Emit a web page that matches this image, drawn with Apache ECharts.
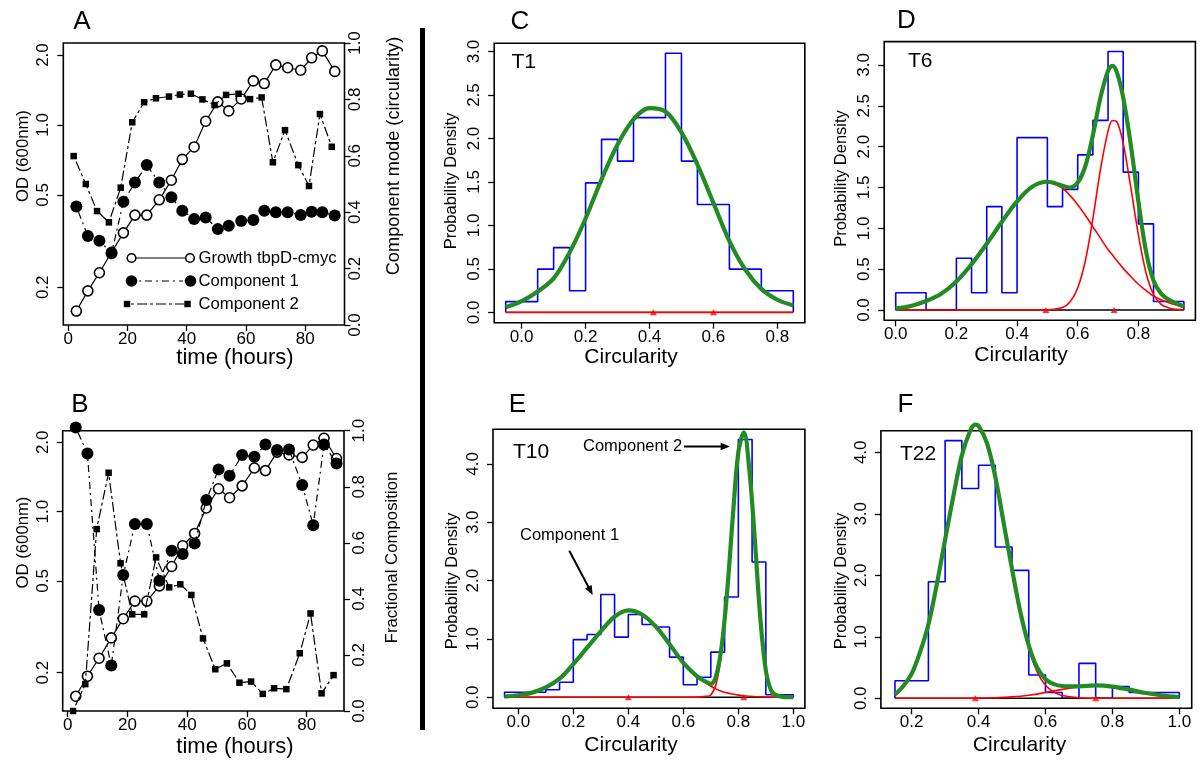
<!DOCTYPE html>
<html><head><meta charset="utf-8">
<script src="https://cdn.jsdelivr.net/npm/echarts@6/dist/echarts.min.js"></script>
<style>html,body{margin:0;padding:0;background:#fff}#c{width:1200px;height:770px}</style>
</head><body><div id="c"></div>
<script>
// ---------------- Panel A / B data (time courses) ----------------
const timeCirc = [2.7, 6.6, 10.5, 14.6, 18.6, 22.5, 26.5, 30.7, 34.8, 38.5, 42.5, 46.4, 50.5, 54.2, 58.4, 62.5, 66.2, 70.1, 74.1, 78.5, 82.2, 85.8, 90.0];
const timeSq = [1.8, 5.9, 9.7, 13.7, 17.7, 21.6, 25.6, 29.6, 34.0, 37.7, 41.4, 45.3, 49.4, 53.3, 57.5, 61.4, 65.3, 69.1, 73.2, 77.7, 81.3, 85.0, 89.0];
const growthOD = [0.158, 0.193, 0.231, 0.283, 0.343, 0.409, 0.409, 0.476, 0.578, 0.711, 0.804, 1.037, 1.257, 1.149, 1.294, 1.547, 1.507, 1.813, 1.763, 1.72, 1.946, 2.083, 1.70];
const comp1Mode = [0.420, 0.316, 0.299, 0.254, 0.437, 0.505, 0.567, 0.505, 0.453, 0.405, 0.376, 0.381, 0.340, 0.352, 0.369, 0.372, 0.405, 0.400, 0.400, 0.390, 0.402, 0.400, 0.388];
const comp2Mode = [0.599, 0.500, 0.404, 0.364, 0.487, 0.719, 0.790, 0.804, 0.810, 0.817, 0.820, 0.800, 0.780, 0.816, 0.820, 0.801, 0.807, 0.577, 0.691, 0.567, 0.493, 0.748, 0.632];
const comp1Frac = [1.011, 0.919, 0.360, 0.162, 0.485, 0.667, 0.667, 0.465, 0.572, 0.560, 0.598, 0.753, 0.862, 0.839, 0.913, 0.907, 0.951, 0.931, 0.933, 0.806, 0.663, 0.951, 0.883];
const comp2Frac = [0.0, 0.096, 0.649, 0.850, 0.527, 0.345, 0.345, 0.548, 0.441, 0.452, 0.414, 0.259, 0.149, 0.170, 0.101, 0.105, 0.061, 0.081, 0.078, 0.206, 0.348, 0.063, 0.128];
const timeTicks = [0, 20, 40, 60, 80];
const odTicks = [0.2, 0.5, 1, 2];
const fracTicks = [0, 0.2, 0.4, 0.6, 0.8, 1.0];

// ---------------- Panel C (T1) ----------------
const histEdgesC = [-0.05, 0, 0.05, 0.1, 0.15, 0.2, 0.25, 0.3, 0.35, 0.4, 0.45, 0.5, 0.55, 0.6, 0.65, 0.7, 0.75, 0.8, 0.85];
const histC = [0.124, 0.124, 0.497, 0.745, 0.248, 1.49, 1.99, 1.74, 2.24, 2.24, 2.98, 1.74, 1.24, 1.24, 0.497, 0.497, 0.248, 0.248];
const curveXC = [-0.05, 0, 0.05, 0.1, 0.15, 0.2, 0.25, 0.3, 0.35, 0.4, 0.45, 0.5, 0.55, 0.6, 0.65, 0.7, 0.75, 0.8, 0.85];
const fitC = [0.06, 0.13, 0.24, 0.39, 0.69, 1.08, 1.53, 1.93, 2.22, 2.35, 2.31, 2.07, 1.70, 1.26, 0.82, 0.49, 0.27, 0.145, 0.08];
const compC = [0, 0, 0, 0, 0, 0, 0, 0, 0, 0, 0, 0, 0, 0, 0, 0, 0, 0, 0];
const meansC = [0.412, 0.6];

// ---------------- Panel D (T6) ----------------
const histEdgesD = [0, 0.05, 0.1, 0.15, 0.2, 0.25, 0.3, 0.35, 0.4, 0.45, 0.5, 0.55, 0.6, 0.65, 0.7, 0.75, 0.8, 0.85, 0.9, 0.95];
const histD = [0.211, 0.211, 0, 0, 0.633, 0.211, 1.266, 0.211, 2.11, 2.11, 1.266, 1.477, 1.899, 2.321, 3.165, 1.688, 1.055, 0.105, 0.105];
const curveXD = [0, 0.05, 0.1, 0.15, 0.2, 0.25, 0.3, 0.35, 0.4, 0.45, 0.5, 0.55, 0.575, 0.6, 0.625, 0.65, 0.675, 0.7, 0.715, 0.73, 0.75, 0.775, 0.8, 0.825, 0.85, 0.875, 0.9, 0.925, 0.95];
const fitD = [0.02, 0.05, 0.11, 0.2, 0.35, 0.56, 0.81, 1.08, 1.33, 1.51, 1.57, 1.52, 1.50, 1.56, 1.76, 2.14, 2.6, 2.93, 2.99, 2.9, 2.6, 2.02, 1.33, 0.72, 0.36, 0.2, 0.125, 0.08, 0.045];
const comp1D = [0.02, 0.05, 0.11, 0.2, 0.35, 0.56, 0.81, 1.08, 1.33, 1.51, 1.57, 1.49, 1.40, 1.29, 1.16, 1.02, 0.88, 0.74, 0.67, 0.6, 0.51, 0.41, 0.315, 0.24, 0.17, 0.125, 0.09, 0.06, 0.035];
const comp2D = [0, 0, 0, 0, 0, 0, 0, 0, 0, 0, 0.002, 0.03, 0.1, 0.27, 0.6, 1.12, 1.72, 2.19, 2.32, 2.3, 2.04, 1.5, 0.92, 0.46, 0.19, 0.07, 0.025, 0.008, 0.002];
const meansD = [0.495, 0.72];

// ---------------- Panel E (T10) ----------------
const histEdgesE = [-0.05, 0, 0.05, 0.1, 0.15, 0.2, 0.25, 0.3, 0.35, 0.4, 0.45, 0.5, 0.55, 0.6, 0.65, 0.7, 0.75, 0.8, 0.85, 0.9, 0.95, 1.0];
const histE = [0.086, 0.086, 0.086, 0.129, 0.258, 0.989, 1.075, 1.763, 1.032, 1.419, 1.247, 1.204, 0.688, 0.215, 0.344, 0.774, 1.72, 4.42, 2.32, 0.043, 0.043];
const curveXE = [-0.05, 0, 0.05, 0.1, 0.15, 0.2, 0.25, 0.3, 0.35, 0.4, 0.45, 0.5, 0.55, 0.6, 0.65, 0.68, 0.7, 0.72, 0.74, 0.76, 0.78, 0.8, 0.82, 0.84, 0.86, 0.88, 0.9, 0.92, 0.94, 0.97, 1.0];
const fitE = [0.011, 0.034, 0.08, 0.17, 0.32, 0.57, 0.85, 1.13, 1.38, 1.49, 1.42, 1.21, 0.91, 0.59, 0.36, 0.27, 0.23, 0.38, 0.9, 1.85, 3.1, 4.2, 4.54, 3.9, 2.7, 1.35, 0.46, 0.11, 0.03, 0.004, 0.001];
const comp1E = [0.011, 0.034, 0.08, 0.17, 0.32, 0.57, 0.85, 1.13, 1.38, 1.49, 1.42, 1.21, 0.91, 0.59, 0.36, 0.25, 0.19, 0.14, 0.1, 0.075, 0.055, 0.037, 0.025, 0.017, 0.012, 0.008, 0.005, 0.003, 0.002, 0.001, 0];
const comp2E = [0, 0, 0, 0, 0, 0, 0, 0, 0, 0, 0, 0, 0, 0, 0.002, 0.015, 0.04, 0.24, 0.8, 1.78, 3.05, 4.16, 4.52, 3.88, 2.69, 1.34, 0.455, 0.107, 0.028, 0.003, 0];
const meansE = [0.4, 0.82];

// ---------------- Panel F (T22) ----------------
const histEdgesF = [0.15, 0.2, 0.25, 0.3, 0.35, 0.4, 0.45, 0.5, 0.55, 0.6, 0.65, 0.7, 0.75, 0.8, 0.85, 0.9, 0.95, 1.0];
const histF = [0.284, 0.284, 1.894, 4.19, 3.41, 3.79, 2.46, 2.08, 0.379, 0.095, 0, 0.568, 0, 0.189, 0.095, 0.095, 0.095];
const curveXF = [0.15, 0.175, 0.2, 0.225, 0.25, 0.275, 0.3, 0.325, 0.35, 0.375, 0.39, 0.4, 0.425, 0.45, 0.475, 0.5, 0.525, 0.55, 0.575, 0.6, 0.625, 0.65, 0.7, 0.75, 0.8, 0.85, 0.9, 0.95, 1.0];
const fitF = [0.06, 0.2, 0.4, 0.75, 1.2, 1.85, 2.58, 3.3, 3.95, 4.35, 4.45, 4.43, 4.15, 3.6, 2.85, 2.1, 1.4, 0.86, 0.5, 0.31, 0.23, 0.2, 0.195, 0.21, 0.19, 0.14, 0.085, 0.045, 0.02];
const comp1F = [0.06, 0.2, 0.4, 0.75, 1.2, 1.85, 2.58, 3.3, 3.95, 4.35, 4.45, 4.43, 4.15, 3.6, 2.84, 2.08, 1.37, 0.81, 0.43, 0.21, 0.1, 0.045, 0.008, 0.001, 0, 0, 0, 0, 0];
const comp2F = [0, 0, 0, 0, 0, 0, 0, 0, 0, 0.001, 0.002, 0.003, 0.005, 0.008, 0.014, 0.022, 0.033, 0.048, 0.068, 0.095, 0.12, 0.145, 0.185, 0.205, 0.19, 0.14, 0.085, 0.045, 0.02];
const meansF = [0.39, 0.75];

const circTicks08 = [0, 0.2, 0.4, 0.6, 0.8];
const circTicks10 = [0, 0.2, 0.4, 0.6, 0.8, 1.0];
const circTicksF = [0.2, 0.4, 0.6, 0.8, 1.0];
const densTicks3 = [0, 0.5, 1.0, 1.5, 2.0, 2.5, 3.0];
const densTicks4 = [0, 1, 2, 3, 4];

// ---------------- helpers ----------------
const FONT = '"Liberation Sans", Arial, Helvetica, sans-serif';
const fmt1 = v => Number(v).toFixed(1);
const fmt0 = v => String(Math.round(v));
const pairs = (xs, ys) => xs.map((x, i) => [x, ys[i]]);
function stepData(edges, h) {
  const d = [[edges[0], 0]];
  for (let i = 0; i < h.length; i++) d.push([edges[i], h[i]]);
  d.push([edges[edges.length - 1], 0]);
  return d;
}
function gridCfg(left, top, width, height) {
  return { left, top, width, height, show: true, borderColor: '#000', borderWidth: 1.6,
           backgroundColor: 'transparent', containLabel: false, outerBoundsMode: 'none' };
}
function axisCommon(ticks, fmt, margin, rotate) {
  return {
    axisLine: { show: false, onZero: false },
    splitLine: { show: false },
    axisTick: { show: true, inside: false, length: 6, lineStyle: { color: '#000', width: 1.3 }, customValues: ticks },
    axisLabel: { show: true, customValues: ticks, formatter: fmt, fontSize: 17, fontFamily: FONT,
                 color: '#000', margin: margin, rotate: rotate || 0 }
  };
}
function xAx(grid, min, max, ticks, fmt) {
  return Object.assign({ type: 'value', gridIndex: grid, min, max, position: 'bottom' }, axisCommon(ticks, fmt, 6, 0));
}
function yAx(grid, type, min, max, ticks, pos, margin) {
  const a = Object.assign({ type, gridIndex: grid, min, max, position: pos }, axisCommon(ticks, fmt1, margin, 90));
  if (type === 'log') a.logBase = 10;
  return a;
}
function densitySeries(xi, yi, edges, hist, cx, fit, c1, c2, means, clipFit) {
  const s = [];
  s.push({ type: 'line', xAxisIndex: xi, yAxisIndex: yi, data: stepData(edges, hist), step: 'end',
           symbol: 'none', lineStyle: { color: '#0000ff', width: 1.6 }, z: 2, silent: true });
  s.push({ type: 'line', xAxisIndex: xi, yAxisIndex: yi, data: [[edges[0], 0], [edges[edges.length - 1], 0]],
           symbol: 'none', lineStyle: { color: '#000', width: 1.4 }, z: 3, silent: true });
  [c1, c2].forEach(c => { if (c) s.push({ type: 'line', xAxisIndex: xi, yAxisIndex: yi, data: pairs(cx, c),
           smooth: 0.35, symbol: 'none', lineStyle: { color: '#ff0000', width: 1.6 }, z: 4, silent: true }); });
  s.push({ type: 'scatter', xAxisIndex: xi, yAxisIndex: yi, data: means.map(m => [m, 0]), symbol: 'triangle',
           symbolSize: [7, 6], itemStyle: { color: '#ff0000' }, z: 5, silent: true });
  s.push({ type: 'line', xAxisIndex: xi, yAxisIndex: yi, data: pairs(cx, fit), smooth: 0.35, symbol: 'none',
           clip: !clipFit, lineStyle: { color: '#228b22', width: 4.2 }, z: 6, silent: true });
  return s;
}
function txt(x, y, s, size, align, rot) {
  return { type: 'text', x, y, rotation: rot || 0, z: 100, silent: true,
           style: { text: s, fontSize: size, fontFamily: FONT, fill: '#000',
                    align: align || 'center', verticalAlign: 'middle',
                    textAlign: align || 'center', textVerticalAlign: 'middle' } };
}
function arrow(x1, y1, x2, y2) {
  const a = Math.atan2(y2 - y1, x2 - x1), L = 10, w = 0.38;
  return [
    { type: 'line', z: 100, shape: { x1, y1, x2: x2 - 6 * Math.cos(a), y2: y2 - 6 * Math.sin(a) }, style: { stroke: '#000', lineWidth: 2 } },
    { type: 'polygon', z: 100, shape: { points: [[x2, y2],
        [x2 - L * Math.cos(a - w), y2 - L * Math.sin(a - w)],
        [x2 - L * Math.cos(a + w), y2 - L * Math.sin(a + w)]] }, style: { fill: '#000' } }
  ];
}

// ---------------- option ----------------
const PI2 = Math.PI / 2;
const dashC1 = [2, 4, 7, 4];
const dashC2 = [3, 3, 10, 3];

const option = {
  animation: false,
  backgroundColor: '#fff',
  textStyle: { fontFamily: FONT },
  grid: [
    gridCfg(63.3, 43, 281.2, 282),      // A
    gridCfg(62.7, 430.7, 281.3, 280.3), // B
    gridCfg(494.2, 43.3, 310.6, 279.4), // C
    gridCfg(884.2, 41.6, 311.2, 278.7), // D
    gridCfg(493, 429.3, 311.9, 279),    // E
    gridCfg(880.9, 430.7, 310.8, 277.6) // F
  ],
  xAxis: [
    xAx(0, -1.7, 93.3, timeTicks, fmt0),
    xAx(1, -1.67, 92.5, timeTicks, fmt0),
    xAx(2, -0.086, 0.886, circTicks08, fmt1),
    xAx(3, -0.038, 0.988, circTicks08, fmt1),
    xAx(4, -0.092, 1.042, circTicks10, fmt1),
    xAx(5, 0.108, 1.037, circTicksF, fmt1)
  ],
  yAxis: [
    yAx(0, 'log', 0.1376, 2.253, odTicks, 'left', 11),
    yAx(0, 'value', 0, 1, fracTicks, 'right', 2),
    yAx(1, 'log', 0.1363, 2.246, odTicks, 'left', 11),
    yAx(1, 'value', 0, 1, fracTicks, 'right', 7),
    yAx(2, 'value', -0.119, 3.095, densTicks3, 'left', 11),
    yAx(3, 'value', -0.126, 3.286, densTicks3, 'left', 11),
    yAx(4, 'value', -0.189, 4.594, densTicks4, 'left', 11),
    yAx(5, 'value', -0.163, 4.351, densTicks4, 'left', 11)
  ],
  series: [].concat(
    // Panel A
    [
      { type: 'line', xAxisIndex: 0, yAxisIndex: 0, data: pairs(timeCirc, growthOD), symbol: 'circle', symbolSize: 10,
        lineStyle: { color: '#000', width: 1.2 }, itemStyle: { color: '#fff', borderColor: '#000', borderWidth: 1.6 }, z: 3 },
      { type: 'line', xAxisIndex: 0, yAxisIndex: 1, data: pairs(timeCirc, comp1Mode), symbol: 'circle', symbolSize: 12,
        lineStyle: { color: '#000', width: 1.2, type: dashC1 }, itemStyle: { color: '#000' }, z: 4 },
      { type: 'line', xAxisIndex: 0, yAxisIndex: 1, data: pairs(timeSq, comp2Mode), symbol: 'rect', symbolSize: 6.5,
        lineStyle: { color: '#000', width: 1.2, type: dashC2 }, itemStyle: { color: '#000' }, z: 5 }
    ],
    // Panel B
    [
      { type: 'line', xAxisIndex: 1, yAxisIndex: 2, data: pairs(timeCirc, growthOD), symbol: 'circle', symbolSize: 10,
        lineStyle: { color: '#000', width: 1.2 }, itemStyle: { color: '#fff', borderColor: '#000', borderWidth: 1.6 }, z: 3 },
      { type: 'line', xAxisIndex: 1, yAxisIndex: 3, data: pairs(timeCirc, comp1Frac), symbol: 'circle', symbolSize: 12, clip: false,
        lineStyle: { color: '#000', width: 1.2, type: dashC1 }, itemStyle: { color: '#000' }, z: 4 },
      { type: 'line', xAxisIndex: 1, yAxisIndex: 3, data: pairs(timeSq, comp2Frac), symbol: 'rect', symbolSize: 6.5, clip: false,
        lineStyle: { color: '#000', width: 1.2, type: dashC2 }, itemStyle: { color: '#000' }, z: 5 }
    ],
    densitySeries(2, 4, histEdgesC, histC, curveXC, fitC, compC, null, meansC, false),
    densitySeries(3, 5, histEdgesD, histD, curveXD, fitD, comp1D, comp2D, meansD, false),
    densitySeries(4, 6, histEdgesE, histE, curveXE, fitE, comp1E, comp2E, meansE, false),
    densitySeries(5, 7, histEdgesF, histF, curveXF, fitF, comp1F, comp2F, meansF, true)
  ),
  graphic: [].concat(
    [
      // divider
      { type: 'line', z: 100, shape: { x1: 422.5, y1: 28, x2: 422.5, y2: 730 }, style: { stroke: '#000', lineWidth: 5 } },
      // panel letters
      txt(82, 22, 'A', 26), txt(80, 405, 'B', 26), txt(520, 21.5, 'C', 26),
      txt(906.5, 21, 'D', 26), txt(517.5, 404.5, 'E', 26), txt(905.5, 405, 'F', 26),
      // x titles
      txt(235, 358, 'time (hours)', 22), txt(235, 746.5, 'time (hours)', 22),
      txt(631, 357, 'Circularity', 21), txt(1021, 355.5, 'Circularity', 21),
      txt(631, 745.5, 'Circularity', 21), txt(1019.5, 745, 'Circularity', 21),
      // y titles
      txt(23, 156, 'OD (600nm)', 16.7, 'center', PI2), txt(23.5, 542.5, 'OD (600nm)', 16.7, 'center', PI2),
      txt(394, 156, 'Component mode (circularity)', 18.2, 'center', PI2),
      txt(392.5, 557.5, 'Fractional Composition', 16.8, 'center', PI2),
      txt(451.7, 181, 'Probability Density', 16.5, 'center', PI2),
      txt(841.7, 178.5, 'Probability Density', 16.5, 'center', PI2),
      txt(452.3, 581, 'Probability Density', 16.5, 'center', PI2),
      txt(841, 581, 'Probability Density', 16.5, 'center', PI2),
      // sample labels
      txt(511.5, 62.5, 'T1', 21, 'left'), txt(908, 61, 'T6', 21, 'left'),
      txt(513, 452.5, 'T10', 21, 'left'), txt(900, 454, 'T22', 21, 'left'),
      // annotations panel E
      txt(583, 446, 'Component 2', 16.5, 'left'), txt(520, 535, 'Component 1', 16.5, 'left'),
      // legend panel A
      { type: 'line', z: 100, shape: { x1: 136, y1: 258, x2: 185, y2: 258 }, style: { stroke: '#000', lineWidth: 1.2 } },
      { type: 'circle', z: 101, shape: { cx: 131.5, cy: 258, r: 4.3 }, style: { fill: '#fff', stroke: '#000', lineWidth: 1.6 } },
      { type: 'circle', z: 101, shape: { cx: 190, cy: 258, r: 4.3 }, style: { fill: '#fff', stroke: '#000', lineWidth: 1.6 } },
      txt(198.5, 258, 'Growth tbpD-cmyc', 16.7, 'left'),
      { type: 'line', z: 100, shape: { x1: 139, y1: 281, x2: 183, y2: 281 }, style: { stroke: '#000', lineWidth: 1.2, lineDash: dashC1 } },
      { type: 'circle', z: 101, shape: { cx: 131.5, cy: 281, r: 5.8 }, style: { fill: '#000' } },
      { type: 'circle', z: 101, shape: { cx: 190.5, cy: 281, r: 5.8 }, style: { fill: '#000' } },
      txt(198.5, 281, 'Component 1', 16.7, 'left'),
      { type: 'line', z: 100, shape: { x1: 131, y1: 304, x2: 184, y2: 304 }, style: { stroke: '#000', lineWidth: 1.2, lineDash: dashC2 } },
      { type: 'rect', z: 101, shape: { x: 123.8, y: 300.8, width: 6.4, height: 6.4 }, style: { fill: '#000' } },
      { type: 'rect', z: 101, shape: { x: 184.3, y: 300.8, width: 6.4, height: 6.4 }, style: { fill: '#000' } },
      txt(198.5, 304, 'Component 2', 16.7, 'left')
    ],
    arrow(684, 446.5, 730, 446.5),
    arrow(569.3, 550.7, 592.7, 595)
  )
};

const chart = echarts.init(document.getElementById('c'), null, { renderer: 'canvas', width: 1200, height: 770 });
chart.setOption(option);
</script></body></html>
